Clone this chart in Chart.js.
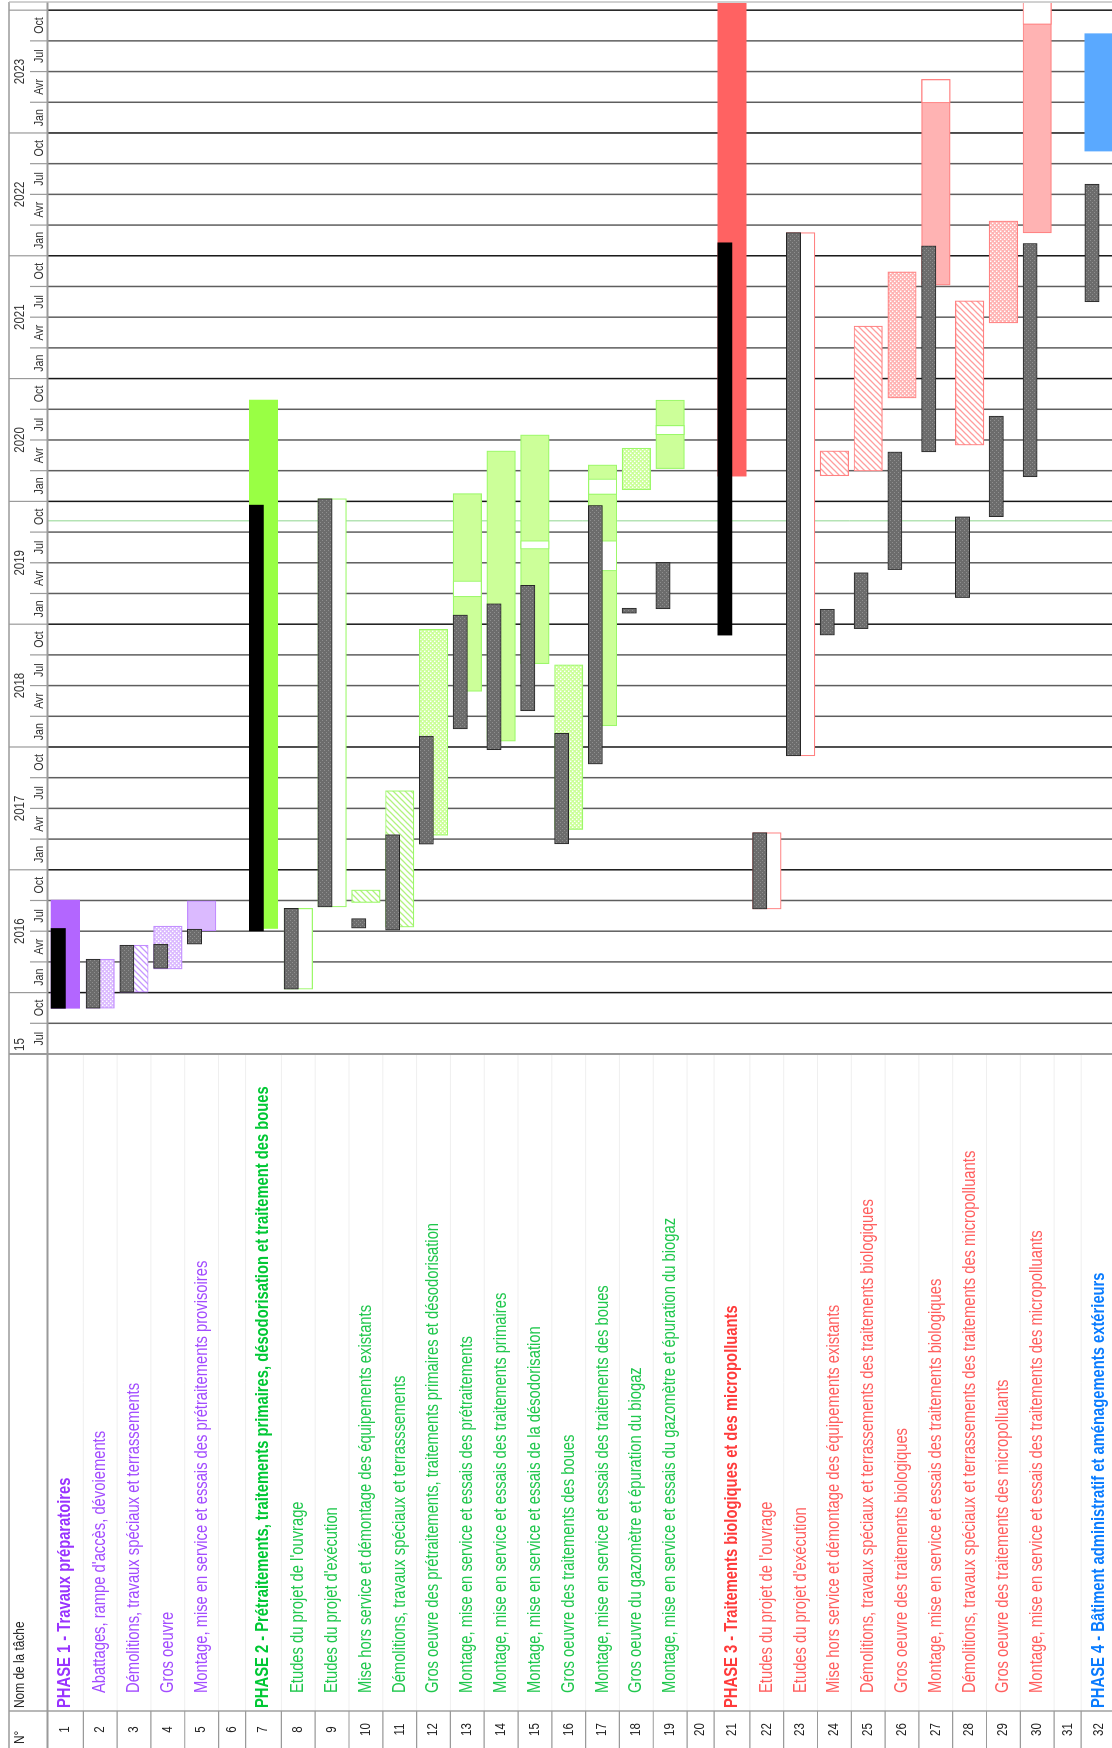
<!DOCTYPE html>
<html lang="fr">
<head>
<meta charset="utf-8">
<title>Planning des travaux</title>
<script src="https://cdn.jsdelivr.net/npm/chart.js@4.4.1/dist/chart.umd.min.js"></script>
<style>
  html, body { margin:0; padding:0; background:#fff; width:1112px; height:1748px; overflow:hidden; }
  #wrap { position:absolute; left:0; top:0; width:1748px; height:1117px; transform-origin:0 0; transform:translate(0px,1748px) rotate(-90deg); }
  canvas { display:block; }
</style>
</head>
<body>
<div id="wrap"><canvas id="gantt" width="1748" height="1117"></canvas></div>
<script>
// ---------------- DATA ----------------
const taskIds = [1,2,3,4,5,6,7,8,9,10,11,12,13,14,15,16,17,18,19,20,21,22,23,24,25,26,27,28,29,30,31,32];
const taskNames = [
  "PHASE 1 - Travaux préparatoires",
  "Abattages, rampe d'accès, dévoiements",
  "Démolitions, travaux spéciaux et terrassements",
  "Gros oeuvre",
  "Montage, mise en service et essais des prétraitements provisoires",
  "",
  "PHASE 2 - Prétraitements, traitements primaires, désodorisation et traitement des boues",
  "Etudes du projet de l'ouvrage",
  "Etudes du projet d'exécution",
  "Mise hors service et démontage des équipements existants",
  "Démolitions, travaux spéciaux et terrasssements",
  "Gros oeuvre des prétraitements, traitements primaires et désodorisation",
  "Montage, mise en service et essais des prétraitements",
  "Montage, mise en service et essais des traitements primaires",
  "Montage, mise en service et essais de la désodorisation",
  "Gros oeuvre des traitements des boues",
  "Montage, mise en service et essais des traitements des boues",
  "Gros oeuvre du gazomètre et épuration du biogaz",
  "Montage, mise en service et essais du gazomètre et épuration du biogaz",
  "",
  "PHASE 3 - Traitements biologiques et des micropolluants",
  "Etudes du projet de l'ouvrage",
  "Etudes du projet d'exécution",
  "Mise hors service et démontage des équipements existants",
  "Démolitions, travaux spéciaux et terrassements des traitements biologiques",
  "Gros oeuvre des traitements biologiques",
  "Montage, mise en service et essais des traitements biologiques",
  "Démolitions, travaux spéciaux et terrassements des traitements des micropolluants",
  "Gros oeuvre des traitements des micropolluants",
  "Montage, mise en service et essais des traitements des micropolluants",
  "",
  "PHASE 4 - Bâtiment administratif et aménagements extérieurs"
];
const taskPhase = [1,1,1,1,1,0,2,2,2,2,2,2,2,2,2,2,2,2,2,0,3,3,3,3,3,3,3,3,3,3,0,4];
const phaseTasks = [1,7,21,32];

// baseline schedule (grey / black bars)
const baseStart = ['2015-11-15','2015-11-15','2016-01-02','2016-03-12','2016-05-23',null,'2016-07-02','2016-01-11','2016-09-12','2016-07-10','2016-07-04','2017-03-16','2018-02-24','2017-12-23','2018-04-17','2017-03-17','2017-11-11','2019-02-03','2019-02-16',null,'2018-11-29','2016-09-06','2017-12-05','2018-11-29','2018-12-18','2019-06-11','2020-05-26','2019-03-19','2019-11-16','2020-03-13',null,'2021-08-16'];
const baseEnd   = ['2016-07-09','2016-04-09','2016-05-20','2016-05-23','2016-07-07',null,'2019-12-20','2016-09-08','2020-01-09','2016-08-08','2017-04-14','2018-02-03','2019-01-28','2019-03-01','2019-04-25','2018-02-11','2019-12-19','2019-02-18','2019-07-02',null,'2022-02-09','2017-04-20','2022-03-09','2019-02-15','2019-06-02','2020-05-26','2022-01-30','2019-11-16','2020-09-11','2022-02-07',null,'2022-07-31'];

// current schedule (coloured bars)
const actStart = ['2015-11-15','2015-11-15','2016-01-02','2016-03-10','2016-07-02',null,'2016-07-09','2016-01-11','2016-09-12','2016-09-25','2016-07-13','2017-04-12','2018-06-14','2018-01-18','2018-09-05','2017-04-29','2018-03-03','2020-02-05','2020-04-07',null,'2020-03-15','2016-09-06','2017-12-05','2020-03-16','2020-03-30','2020-11-04','2021-10-05','2020-06-16','2021-06-14','2022-03-08',null,'2022-11-08'];
const actEnd   = ['2016-10-02','2016-04-09','2016-05-20','2016-07-16','2016-09-30',null,'2020-10-28','2016-09-08','2020-01-09','2016-11-02','2017-08-23','2018-12-16','2020-01-24','2020-05-29','2020-07-16','2018-09-02','2020-04-18','2020-06-07','2020-10-28',null,'2024-06-01','2017-04-20','2022-03-09','2020-05-29','2021-06-05','2021-11-14','2023-06-08','2021-08-19','2022-04-13','2024-03-01',null,'2023-10-22'];

// interruptions (white segments inside current bars)
const gapTask  = [13,15,17,17,19,27,30];
const gapStart = ['2019-03-21','2019-08-11','2019-06-07','2020-01-21','2020-07-16','2023-03-29','2023-11-19'];
const gapEnd   = ['2019-05-08','2019-09-06','2019-09-06','2020-03-07','2020-08-14','2023-06-08','2024-03-01'];

const statusDate = '2019-11-04';
const axisStart = '2015-07-01';
const axisEnd = '2024-01-22';
const yearLabels = ['15','2016','2017','2018','2019','2020','2021','2022','2023'];
const quarterLabels = ['Jul','Oct','Jan','Avr'];  // quarter starting Jul 2015, cycling
const headerNum = 'N°';
const headerName = 'Nom de la tâche';

// ---------------- HELPERS / LAYOUT ----------------
function toMonths(s){ const p = s.split('-').map(Number); return (p[0]-2015)*12 + (p[1]-7) + (p[2]-1)/30; }
const T0 = toMonths(axisStart), T1 = toMonths(axisEnd);

const BLANK = [6,20,31];
const rowSize = taskIds.map(id => phaseTasks.includes(id) ? 1.06 : (BLANK.includes(id) ? 0.8 : 1));
const rowStart = []; let accRow = 0;
rowSize.forEach(s => { rowStart.push(accRow); accRow += s; });
const rowTotal = accRow;
const rowCenter = i => rowStart[i] + rowSize[i] / 2;

const CW = 1748, CH = 1117;
const TABLE_W = 694, HEAD_H = 47.5, FRAME = 9, NUM_W = 37;
const BAR = 28.5;
const NARROW = 0.82;
const FONT = '"Liberation Sans", Arial, sans-serif';

const PH = {
  1: {title:'#9933ff', text:'#a24bff', solid:'#b366ff', light:'#dbbaff', line:'#c28dff', hatch:'#c596ff'},
  2: {title:'#00c834', text:'#1fc74c', solid:'#99ff44', light:'#ccff99', line:'#9cf86a', hatch:'#b2f27e'},
  3: {title:'#ff3b3b', text:'#ff5e5e', solid:'#ff6262', light:'#ffb3b3', line:'#ff8282', hatch:'#ff9d9d'},
  4: {title:'#0a7cff', text:'#0a7cff', solid:'#5aa9ff', light:'#a9d0ff', line:'#5aa9ff', hatch:'#8cc0ff'}
};
const TASK_LOOK = ['summary','dots','hatch','dots','plain','','summary','study','study','hatch','hatch','dots','plain','plain','plain','dots','plain','dots','plain','','summary','study','study','hatch','hatch','dots','plain','hatch','dots','plain','','summary'];

const patCtx = document.createElement('canvas').getContext('2d');
function makePattern(kind, bg, fg){
  const s = kind === 'hatch' ? 6 : 4;
  const c = document.createElement('canvas'); c.width = c.height = s;
  const g = c.getContext('2d');
  g.fillStyle = bg; g.fillRect(0,0,s,s);
  if (kind === 'hatch') {
    g.strokeStyle = fg; g.lineWidth = 1.3; g.beginPath();
    g.moveTo(-1, s+1); g.lineTo(s+1, -1);
    g.moveTo(-1, 1); g.lineTo(1, -1);
    g.moveTo(s-1, s+1); g.lineTo(s+1, s-1);
    g.stroke();
  } else if (kind === 'dots') {
    g.fillStyle = fg; g.fillRect(0,0,1.4,1.4); g.fillRect(2,2,1.4,1.4);
  } else if (kind === 'gray') {
    g.fillStyle = fg; g.fillRect(1,0,1,1); g.fillRect(3,2,1,1);
  }
  return patCtx.createPattern(c, 'repeat');
}
const grayFill = makePattern('gray', '#6c6c6c', '#8f8f8f');
const fills = {};
[1,2,3,4].forEach(p => {
  fills[p] = {
    summary: PH[p].solid,
    plain: PH[p].light,
    study: '#ffffff',
    hatch: makePattern('hatch', '#ffffff', PH[p].hatch),
    dots: makePattern('dots', PH[p].light, '#ffffff')
  };
});
const look = id => TASK_LOOK[id-1];
const phaseOf = id => taskPhase[id-1];

// ---------------- DATASETS ----------------
const baseData = [], actData = [], gapData = [];
taskIds.forEach((id, i) => {
  if (baseStart[i]) baseData.push({x:[toMonths(baseStart[i]), toMonths(baseEnd[i])], y: rowCenter(i), task: id});
  if (actStart[i]) actData.push({x:[toMonths(actStart[i]), toMonths(actEnd[i])], y: rowCenter(i), task: id});
});
gapTask.forEach((id, k) => gapData.push({x:[toMonths(gapStart[k]), toMonths(gapEnd[k])], y: rowCenter(id-1), task: id}));

const isBlackBase = id => id === 1 || id === 7 || id === 21;

const decor = {
  id: 'decor',
  beforeDatasetsDraw(chart){
    const {ctx, chartArea: a, scales: {x}} = chart;
    ctx.save();
    for (let k = 1; k * 3 <= T1 + 0.001; k++) {
      const px = x.getPixelForValue(k * 3);
      const isJan = (k * 3 + 6) % 12 === 0;
      ctx.strokeStyle = isJan ? '#161616' : '#5e5e5e';
      ctx.lineWidth = 1.5;
      ctx.beginPath(); ctx.moveTo(px, a.top); ctx.lineTo(px, CH); ctx.stroke();
    }
    const sx = x.getPixelForValue(toMonths(statusDate));
    ctx.strokeStyle = '#8fd58f'; ctx.lineWidth = 1;
    ctx.beginPath(); ctx.moveTo(sx, a.top); ctx.lineTo(sx, CH); ctx.stroke();
    ctx.restore();
  },
  afterDraw(chart){
    const {ctx, scales: {x, y}} = chart;
    ctx.save();
    const text = (t, u, v, font, color, align) => {
      ctx.save(); ctx.translate(u, v); ctx.scale(NARROW, 1);
      ctx.font = font; ctx.fillStyle = color; ctx.textAlign = align; ctx.textBaseline = 'middle';
      ctx.fillText(t, 0, 0); ctx.restore();
    };
    // table row separators
    const bounds = rowStart.concat([rowTotal]);
    bounds.forEach(b => {
      const v = y.getPixelForValue(b);
      ctx.strokeStyle = '#efefef'; ctx.lineWidth = 1;
      ctx.beginPath(); ctx.moveTo(NUM_W, v); ctx.lineTo(TABLE_W, v); ctx.stroke();
      ctx.strokeStyle = '#9a9a9a'; ctx.lineWidth = 1.2;
      ctx.beginPath(); ctx.moveTo(0, v); ctx.lineTo(NUM_W, v); ctx.stroke();
    });
    // frame lines
    ctx.strokeStyle = '#9a9a9a';
    ctx.lineWidth = 1.6;
    ctx.beginPath(); ctx.moveTo(0, FRAME); ctx.lineTo(CW - 2, FRAME); ctx.stroke();
    ctx.lineWidth = 2;
    ctx.beginPath(); ctx.moveTo(0, HEAD_H); ctx.lineTo(CW - 2, HEAD_H); ctx.stroke();
    ctx.beginPath(); ctx.moveTo(TABLE_W, FRAME); ctx.lineTo(TABLE_W, CH); ctx.stroke();
    ctx.lineWidth = 1.4;
    ctx.beginPath(); ctx.moveTo(NUM_W, FRAME); ctx.lineTo(NUM_W, CH); ctx.stroke();
    ctx.strokeStyle = '#bdbdbd';
    ctx.beginPath(); ctx.moveTo(CW - 2, FRAME); ctx.lineTo(CW - 2, CH); ctx.stroke();
    // timescale header separators
    ctx.strokeStyle = '#9a9a9a'; ctx.lineWidth = 1.2;
    for (let k = 1; k * 3 <= T1 + 0.001; k++) {
      const px = x.getPixelForValue(k * 3);
      const yearEdge = (k * 3 + 6) % 12 === 0;
      ctx.beginPath(); ctx.moveTo(px, yearEdge ? FRAME : 30); ctx.lineTo(px, HEAD_H); ctx.stroke();
    }
    // quarter labels
    for (let k = 0; k * 3 < T1 - 1; k++) {
      const mid = x.getPixelForValue(k * 3 + 1.5);
      text(quarterLabels[k % 4], mid, 39.5, '13px ' + FONT, '#333', 'center');
    }
    // year labels
    yearLabels.forEach((lab, j) => {
      if (j === 0) { text(lab, x.getPixelForValue(T0) + 3, 20, '14px ' + FONT, '#333', 'left'); return; }
      const mid = x.getPixelForValue((j - 1) * 12 + 6 + 6);
      text(lab, mid, 20, '14px ' + FONT, '#333', 'center');
    });
    // table header
    text(headerNum, 4, 20, '14.5px ' + FONT, '#222', 'left');
    text(headerName, NUM_W + 3, 20, '14.5px ' + FONT, '#222', 'left');
    // rows
    taskIds.forEach((id, i) => {
      const v = y.getPixelForValue(rowCenter(i));
      text(String(id), NUM_W / 2, v, '14px ' + FONT, '#222', 'center');
      const name = taskNames[i];
      if (!name) return;
      const p = phaseOf(id);
      if (phaseTasks.includes(id)) text(name, NUM_W + 3, v, 'bold 18px ' + FONT, PH[p].title, 'left');
      else text(name, NUM_W + 18, v, '18px ' + FONT, PH[p].text, 'left');
    });
    ctx.restore();
  }
};

new Chart(document.getElementById('gantt'), {
  type: 'bar',
  data: {
    datasets: [
      {
        label: 'Planning initial',
        data: baseData,
        grouped: true,
        barThickness: BAR / 2,
        clip: 0,
        borderSkipped: false,
        backgroundColor: c => (c.raw && isBlackBase(c.raw.task)) ? '#000000' : grayFill,
        borderColor: c => (c.raw && isBlackBase(c.raw.task)) ? '#000000' : '#262626',
        borderWidth: c => (c.raw && isBlackBase(c.raw.task)) ? 0 : 1
      },
      { label: 'slot', data: [], grouped: true, barThickness: BAR / 2, clip: 0 },
      {
        label: 'Interruptions',
        data: gapData,
        grouped: false,
        barThickness: BAR,
        clip: 0,
        borderSkipped: false,
        backgroundColor: '#ffffff',
        borderColor: c => c.raw ? PH[phaseOf(c.raw.task)].line : '#999',
        borderWidth: 1.2
      },
      {
        label: 'Planning actuel',
        data: actData,
        grouped: false,
        barThickness: BAR,
        clip: 0,
        borderSkipped: false,
        backgroundColor: c => c.raw ? fills[phaseOf(c.raw.task)][look(c.raw.task)] : '#ccc',
        borderColor: c => c.raw ? PH[phaseOf(c.raw.task)].line : '#999',
        borderWidth: c => (c.raw && look(c.raw.task) === 'summary') ? 0 : 1.2
      }
    ]
  },
  options: {
    indexAxis: 'y',
    responsive: false,
    maintainAspectRatio: false,
    animation: false,
    events: [],
    layout: { autoPadding: false, padding: { left: TABLE_W, right: 3, top: HEAD_H, bottom: 0 } },
    scales: {
      x: { type: 'linear', min: T0, max: T1, display: false, offset: false, grace: 0 },
      y: { type: 'linear', min: 0, max: rowTotal, reverse: true, display: false, offset: false, grace: 0 }
    },
    plugins: { legend: { display: false }, tooltip: { enabled: false }, title: { display: false } }
  },
  plugins: [decor]
});
</script>
</body>
</html>
